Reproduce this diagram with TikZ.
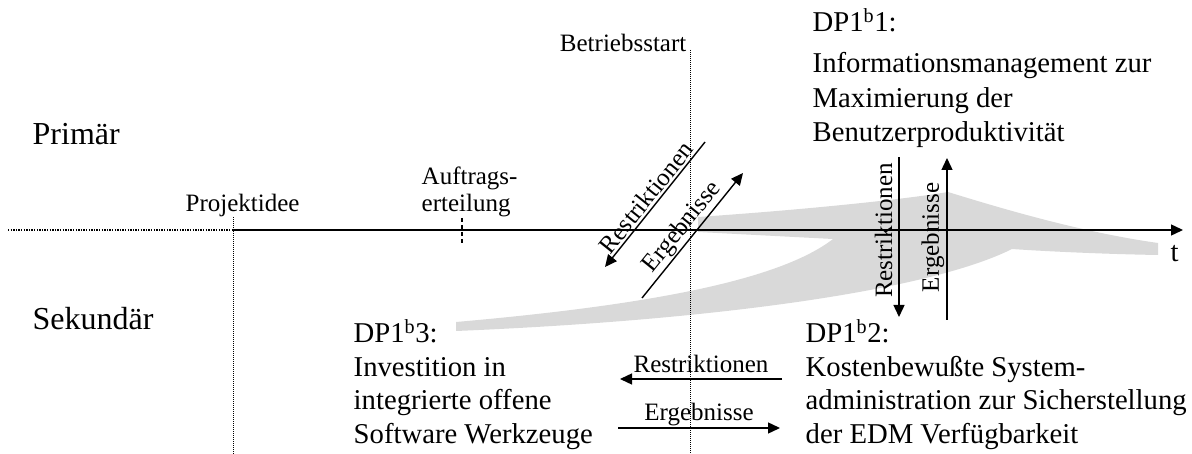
\documentclass[tikz,border=0pt]{standalone}
\usepackage{fontspec}
\setmainfont{Liberation Serif}
\usetikzlibrary{arrows.meta}
\definecolor{bandgray}{RGB}{217,217,217}

\begin{document}
\begin{tikzpicture}[x=1pt, y=-1pt, line width=1.4pt,
  flow/.style={-{Triangle[length=12pt,width=11pt]}},
  back/.style={{Triangle[length=12pt,width=11pt]}-},
  lbl/.style={inner sep=0pt, font=\fontsize{25}{27}\selectfont},
  txt/.style={inner sep=0pt, align=left, font=\fontsize{28.7}{33.4}\selectfont},
  side/.style={inner sep=0pt, font=\fontsize{32}{38}\selectfont},
  guide/.style={line width=0.7pt, dash pattern=on 1pt off 1pt}]
  \useasboundingbox (0,0) rectangle (1192,454);

  \coordinate (O) at (8,230);      % Anfang der Zeitachse
  \coordinate (P) at (233,230);    % Projektidee
  \coordinate (E) at (1183,230);
  \coordinate (Pt) at (233,217);
  \coordinate (Pb) at (233,454);
  \coordinate (St) at (690,50);    % Betriebsstart
  \coordinate (Sb) at (690,454);
  \coordinate (At) at (462,218);   % Auftragserteilung
  \coordinate (Ab) at (462,243);

  % Band von Sekundaer nach Primaer
  \fill[bandgray] (698,232) -- (698,217)
    .. controls (800,210) and (900,200) .. (948,192)
    .. controls (1000,208) and (1080,232) .. (1158,243)
    -- (1158,255)
    .. controls (1100,254) and (1040,251) .. (1012,249)
    .. controls (930,290) and (720,320) .. (456,331)
    -- (456,322)
    .. controls (650,305) and (780,280) .. (833,239)
    -- cycle;

  \draw[line width=1.6pt, dash pattern=on 1.4pt off 1.2pt] (O) -- (P);
  \draw[flow] (P) -- (E);
  \draw[guide] (Pt) -- (Pb);
  \draw[guide] (St) -- (Sb);
  \draw[line width=1.2pt, dash pattern=on 4pt off 3pt] (At) -- (Ab);

  \coordinate (r1) at (705,142);
  \coordinate (r2) at (605,267);
  \coordinate (e1) at (642,298);
  \coordinate (e2) at (743,173);
  \draw[flow] (r1) -- node[lbl, sloped, above=2pt] {Restriktionen} (r2);
  \draw[flow] (e1) -- node[lbl, sloped, above=1pt] {Ergebnisse} (e2);

  \coordinate (r3) at (899,157);
  \coordinate (r4) at (899,317);
  \coordinate (e3) at (947,320);
  \coordinate (e4) at (947,158);
  \draw[back] (r4) -- node[lbl, sloped, above=6pt, pos=0.54] {Restriktionen} (r3);
  \draw[flow] (e3) -- node[lbl, sloped, above=2pt, pos=0.51] {Ergebnisse} (e4);

  \coordinate (r5) at (782,379);
  \coordinate (r6) at (620,379);
  \coordinate (e5) at (618,428);
  \coordinate (e6) at (780,428);
  \draw[flow] (r5) -- node[lbl, above=6pt] {Restriktionen} (r6);
  \draw[flow] (e5) -- node[lbl, above=1pt] {Ergebnisse} (e6);

  \node[side, anchor=base west] (prim) at (32,145) {Primär};
  \node[side, anchor=base west] (sek) at (32,330) {Sekundär};
  \node[lbl, anchor=base west] (idee) at (185,212) {Projektidee};
  \node[lbl, anchor=base west, align=left] (auftrag) at (421,212) {Auftrags-\\erteilung};
  \node[lbl, anchor=base east] (start) at (687,52) {Betriebsstart};
  \node[txt, anchor=base west, font=\fontsize{28.7}{34.5}\selectfont] (dp1) at (812,142)
    {DP1\textsuperscript{b}1:\\[6.5pt] Informationsmanagement zur\\ Maximierung der\\ Benutzerproduktivität};
  \node[txt, anchor=base west] (dp3) at (353,443)
    {DP1\textsuperscript{b}3:\\ Investition in\\ integrierte offene\\ Software Werkzeuge};
  \node[txt, anchor=base west] (dp2) at (805,443)
    {DP1\textsuperscript{b}2:\\ Kostenbewußte System-\\ administration zur Sicherstellung\\ der EDM Verfügbarkeit};
  \node[txt, anchor=base west] (t) at (1170,262) {t};
\end{tikzpicture}
\end{document}
